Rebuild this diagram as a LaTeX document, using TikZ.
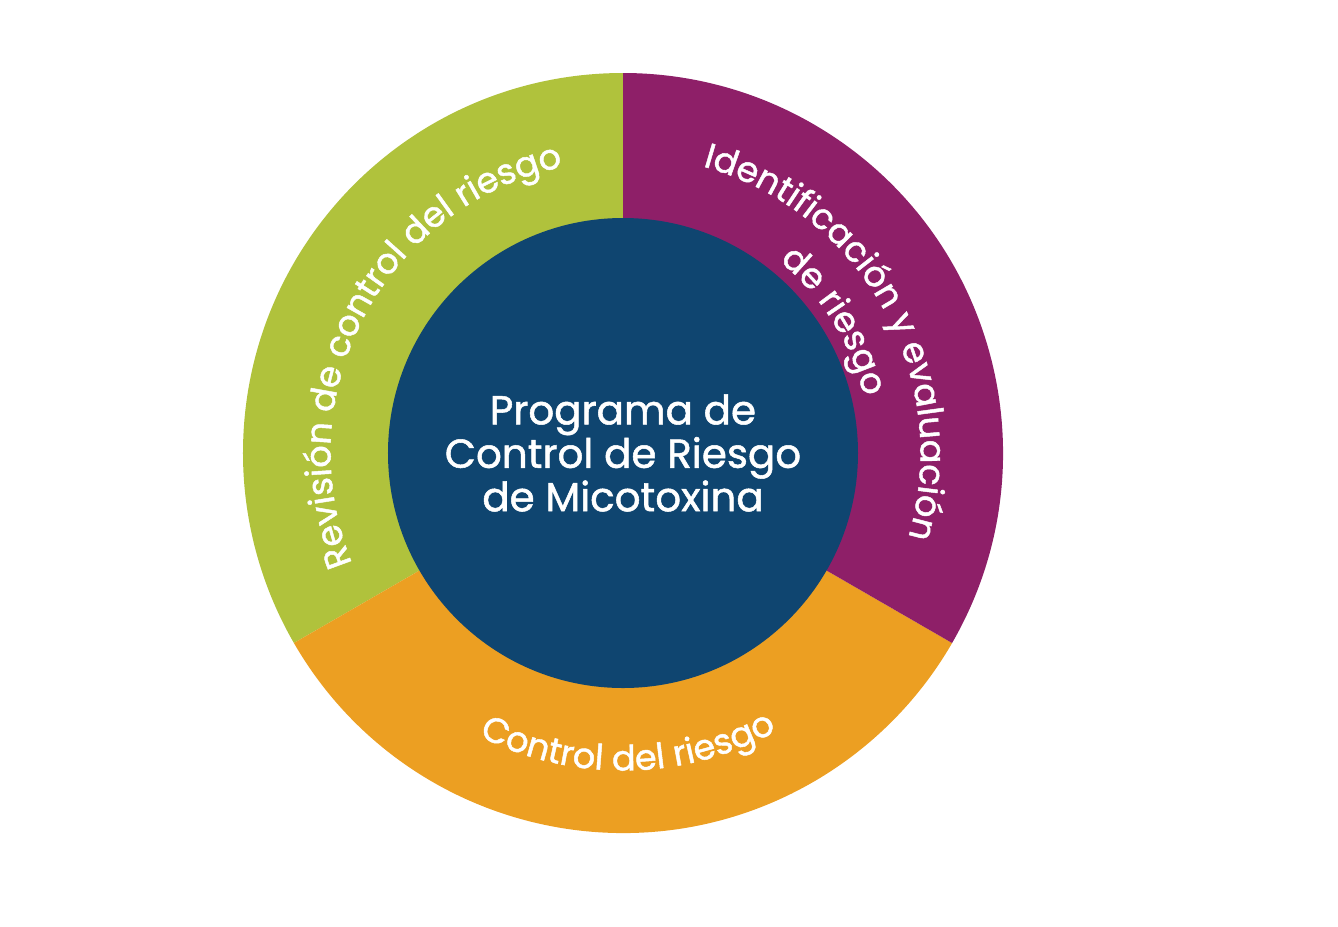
\documentclass[tikz,border=0pt]{standalone}
\usepackage{fontspec}
\setmainfont{Poppins}[FakeBold=1.3,AutoFakeBold=1.3]
\usetikzlibrary{decorations.text}
\definecolor{verde}{HTML}{B0C23C}
\definecolor{morado}{HTML}{8E1F68}
\definecolor{naranja}{HTML}{EC9F22}
\definecolor{azul}{HTML}{0F4570}
\newcommand{\arcfont}{\fontsize{20}{23}\bfseries\color{white}}
\tikzset{
  arctext/.style={decorate,decoration={text along path,text align=center,
      text={|\arcfont|#1}}}
}
\begin{document}
\begin{tikzpicture}
  \useasboundingbox (-12.46,-9.46) rectangle (14.3,9.06);
  % sectores
  \fill[verde] (0,0) -- (90:7.6) arc (90:210:7.6) -- cycle;
  \fill[naranja] (0,0) -- (210:7.6) arc (210:330:7.6) -- cycle;
  \fill[morado] (0,0) -- (-30:7.6) arc (-30:90:7.6) -- cycle;
  \fill[azul] (0,0) circle (4.7);
  \node[align=center,text=white,font=\fontsize{23}{23.5}\bfseries] (centro) at (0,0)
    {Programa de\\Control de Riesgo\\de Micotoxina};
  % textos curvos
  \path[arctext={Revisión de control del riesgo}] (203:5.85) arc (203:101:5.85);
  \path[arctext={Identificación y evaluación}] (112:5.95) arc (112:-54:5.95);
  \path[arctext={de riesgo}] (62:4.95) arc (62:2:4.95);
  \path[arctext={Control del riesgo}] (220:6.35) arc (220:322:6.35);
\end{tikzpicture}
\end{document}
